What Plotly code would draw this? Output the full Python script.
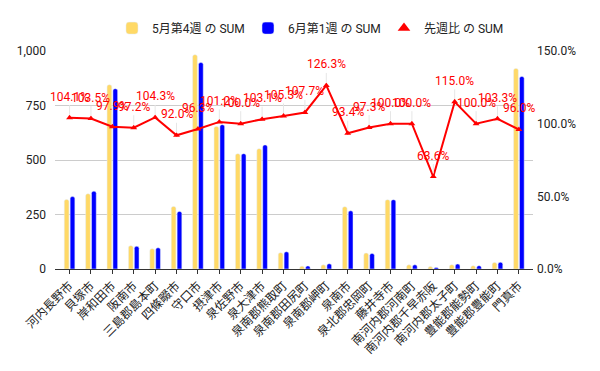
import plotly.graph_objects as go

categories = ["河内長野市", "貝塚市", "岸和田市", "阪南市", "三島郡島本町", "四條畷市", "守口市",
              "摂津市", "泉佐野市", "泉大津市", "泉南郡熊取町", "泉南郡田尻町", "泉南郡岬町", "泉南市",
              "泉北郡忠岡町", "藤井寺市", "南河内郡河南町", "南河内郡千早赤阪", "南河内郡太子町",
              "豊能郡能勢町", "豊能郡豊能町", "門真市"]
may_week4 = [319, 345, 845, 107, 93, 287, 983, 654, 529, 552, 75, 13, 19, 286, 73, 318, 19, 11, 20, 15, 30, 920]
jun_week1 = [332, 357, 827, 104, 97, 264, 947, 662, 529, 569, 79, 14, 24, 267, 71, 318, 19, 7, 23, 15, 31, 883]
ratio_pct = [104.1, 103.5, 97.9, 97.2, 104.3, 92.0, 96.3, 101.2, 100.0, 103.1, 105.3, 107.7, 126.3, 93.4,
             97.3, 100.0, 100.0, 63.6, 115.0, 100.0, 103.3, 96.0]

FONT = "Roboto, 'Noto Sans CJK JP', Arial, sans-serif"
ratio = [v / 100 for v in ratio_pct]

fig = go.Figure()
fig.add_trace(go.Bar(x=categories, y=may_week4, name="5月第4週 の SUM",
                     marker=dict(color="#FFD966", cornerradius=2)))
fig.add_trace(go.Bar(x=categories, y=jun_week1, name="6月第1週 の SUM",
                     marker=dict(color="#0000FF", cornerradius=2)))
fig.add_trace(go.Scatter(x=categories, y=ratio, yaxis="y2", mode="lines+markers",
                         line=dict(color="#FF0000", width=2),
                         marker=dict(symbol="triangle-up", size=6, color="#FF0000"),
                         showlegend=False, name="先週比 の SUM"))
fig.add_trace(go.Scatter(x=[None], y=[None], yaxis="y2", mode="markers",
                         marker=dict(symbol="triangle-up", size=11, color="#FF0000"),
                         name="先週比 の SUM"))

annotations = []
for c, r, p in zip(categories, ratio, ratio_pct):
    annotations.append(dict(x=c, y=r, xref="x", yref="y2", text=f"{p:.1f}%",
                            showarrow=True, ax=0, ay=-21, arrowhead=0, arrowwidth=1,
                            arrowcolor="#e6e6e6", standoff=3,
                            font=dict(color="#FF0000", size=12, family=FONT)))

fig.update_layout(
    width=600, height=371,
    margin=dict(l=55, r=67, t=51, b=102),
    paper_bgcolor="white", plot_bgcolor="white",
    font=dict(family=FONT, size=12, color="#222222"),
    barmode="group", bargap=0.45, bargroupgap=0.2,
    legend=dict(orientation="h", x=0.546, xanchor="center", y=1.105, yanchor="middle",
                font=dict(size=12, color="#222222"), traceorder="normal",
                entrywidth=91, entrywidthmode="pixels"),
    xaxis=dict(type="category", range=[-0.68, 21.66], tickangle=-45, showline=True,
               linecolor="#333333", linewidth=1, ticks="outside", ticklen=4, tickcolor="#333333",
               tickfont=dict(size=12, color="#222222"), showgrid=False, automargin=False),
    yaxis=dict(range=[0, 1000], tickvals=[0, 250, 500, 750, 1000], tickformat=",",
               showgrid=True, gridcolor="#cccccc", zeroline=False, automargin=False,
               ticklabelstandoff=8, tickfont=dict(size=12, color="#222222")),
    yaxis2=dict(range=[0, 1.5], tickvals=[0, 0.5, 1.0, 1.5], tickformat=".1%",
                overlaying="y", side="right", showgrid=False, zeroline=False, automargin=False,
                ticklabelstandoff=3, tickfont=dict(size=12, color="#222222")),
    annotations=annotations,
)

fig.write_html("out.html", config={"displayModeBar": False},
               post_script="document.body.style.margin='0';document.body.style.padding='0';")
